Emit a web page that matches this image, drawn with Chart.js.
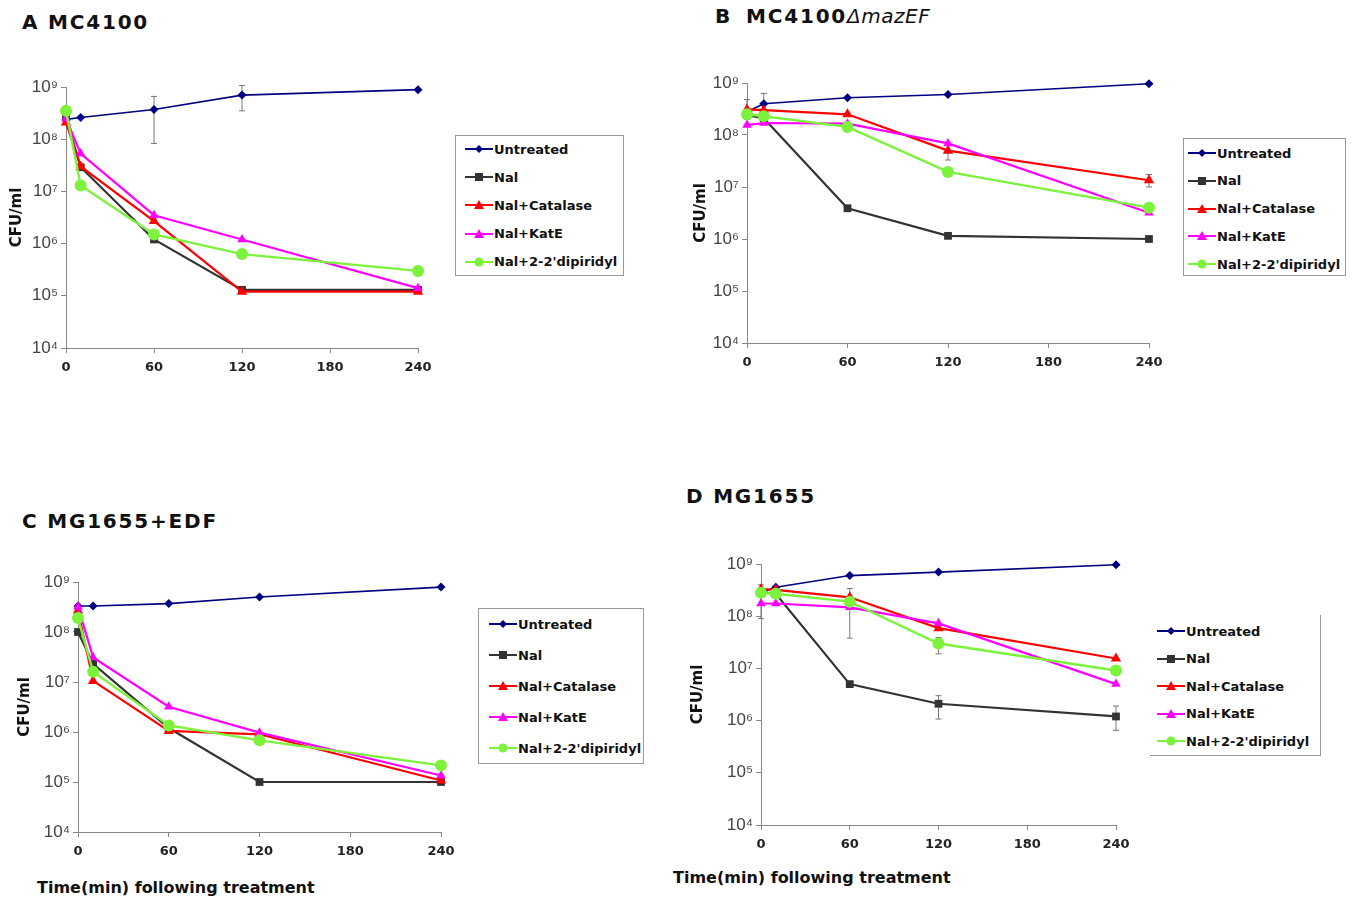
<!DOCTYPE html>
<html>
<head>
<meta charset="utf-8">
<script src="https://cdn.jsdelivr.net/npm/chart.js@4.4.0/dist/chart.umd.min.js"></script>
<style>
  body { margin: 0; background: #fff; width: 1353px; height: 899px; position: relative; overflow: hidden; font-family: 'DejaVu Sans', sans-serif; }
  canvas { position: absolute; }
  .ptitle { position: absolute; font-weight: bold; font-size: 20px; letter-spacing: 1.8px; white-space: pre; line-height: 22px; color: #111; }
  .ptitle i { font-weight: normal; letter-spacing: 0.5px; }
  .ptitle span { margin-left: 14px; }
  .xtitle { position: absolute; font-weight: bold; font-size: 16px; line-height: 18px; white-space: pre; color: #111; }
  .lgbox { position: absolute; box-sizing: border-box; }
  .lgrow { position: absolute; display: flex; align-items: center; font-weight: bold; font-size: 13px; color: #111; white-space: pre; height: 16px; }
  .lgrow svg { margin-right: 1px; }
</style>
</head>
<body>

<div class="ptitle" style="left:22px;top:11px">A MC4100</div>
<div class="ptitle" style="left:715px;top:5px">B<span>MC4100<i>&Delta;mazEF</i></span></div>
<div class="ptitle" style="left:22px;top:510px">C MG1655+EDF</div>
<div class="ptitle" style="left:686px;top:485px">D MG1655</div>
<div class="xtitle" style="left:37px;top:879px">Time(min) following treatment</div>
<div class="xtitle" style="left:673px;top:869px">Time(min) following treatment</div>

<canvas id="chartA"></canvas>
<canvas id="chartB"></canvas>
<canvas id="chartC"></canvas>
<canvas id="chartD"></canvas>

<script>
// sampling times (min)
const times = [0, 10, 60, 120, 240];
const seriesNames = ['Untreated', 'Nal', 'Nal+Catalase', 'Nal+KatE', "Nal+2-2'dipiridyl"];
const yTicks = [1e4, 1e5, 1e6, 1e7, 1e8, 1e9];

// A  MC4100
const aUntreated = [2.4e8, 2.6e8, 3.7e8, 7.0e8, 8.9e8];
const aNal       = [2.6e8, 2.9e7, 1.2e6, 1.3e5, 1.3e5];
const aCatalase  = [2.1e8, 3.0e7, 2.7e6, 1.2e5, 1.2e5];
const aKatE      = [2.5e8, 5.3e7, 3.5e6, 1.2e6, 1.4e5];
const aDipiridyl = [3.5e8, 1.3e7, 1.5e6, 6.3e5, 3.0e5];

// B  MC4100 delta mazEF
const bUntreated = [2.8e8, 4.0e8, 5.2e8, 6.0e8, 9.7e8];
const bNal       = [2.4e8, 2.1e8, 3.9e6, 1.15e6, 1.0e6];
const bCatalase  = [3.1e8, 3.0e8, 2.5e8, 5.0e7, 1.35e7];
const bKatE      = [1.55e8, 1.7e8, 1.65e8, 6.9e7, 3.2e6];
const bDipiridyl = [2.5e8, 2.3e8, 1.43e8, 1.95e7, 4.0e6];

// C  MG1655+EDF
const cUntreated = [3.3e8, 3.3e8, 3.7e8, 5.0e8, 7.9e8];
const cNal       = [1.0e8, 2.3e7, 1.2e6, 1.0e5, 1.0e5];
const cCatalase  = [2.7e8, 1.05e7, 1.05e6, 9.0e5, 1.07e5];
const cKatE      = [3.2e8, 3.1e7, 3.2e6, 9.7e5, 1.35e5];
const cDipiridyl = [1.9e8, 1.6e7, 1.35e6, 6.8e5, 2.15e5];

// D  MG1655
const dUntreated = [2.8e8, 3.6e8, 6.0e8, 7.0e8, 9.7e8];
const dNal       = [2.9e8, 2.7e8, 5.0e6, 2.1e6, 1.2e6];
const dCatalase  = [3.3e8, 3.2e8, 2.3e8, 5.9e7, 1.55e7];
const dKatE      = [1.75e8, 1.75e8, 1.48e8, 7.3e7, 5.0e6];
const dDipiridyl = [2.8e8, 2.7e8, 1.9e8, 3.0e7, 9.1e6];

// error bars: [time, low, high]
const errA = [[60, 8.3e7, 6.6e8], [120, 3.5e8, 1.07e9]];
const errB = [[0, 2.0e8, 4.8e8], [10, 3.0e8, 6.3e8], [120, 3.3e7, 7.0e7], [240, 1.0e7, 1.74e7]];
const errC = [];
const errD = [[0, 9e7, 4e8], [60, 3.8e7, 3.4e8], [120, 1.9e7, 3.9e7], [120, 1.07e6, 3.0e6], [240, 6.5e5, 1.9e6]];

const styles = [
  { color: '#000080', shape: 'rectRot', r: 4.5, w: 1.6 },
  { color: '#333333', shape: 'rect', r: 5.5, w: 2.2 },
  { color: '#ff0000', shape: 'triangle', r: 6, w: 2.2 },
  { color: '#ff00ff', shape: 'triangle', r: 5.5, w: 2.2 },
  { color: '#7cf23c', shape: 'circle', r: 6, w: 2.4 }
];

const sup = { 4: '\u2074', 5: '\u2075', 6: '\u2076', 7: '\u2077', 8: '\u2078', 9: '\u2079' };

const errorBars = {
  id: 'errorBars',
  beforeDatasetsDraw(chart, args, opts) {
    const { ctx, scales: { x, y } } = chart;
    ctx.save();
    ctx.strokeStyle = '#777';
    ctx.lineWidth = 1;
    (opts.bars || []).forEach(([t, lo, hi]) => {
      const px = x.getPixelForValue(t), p1 = y.getPixelForValue(lo), p2 = y.getPixelForValue(hi);
      ctx.beginPath();
      ctx.moveTo(px, p1); ctx.lineTo(px, p2);
      ctx.moveTo(px - 3, p1); ctx.lineTo(px + 3, p1);
      ctx.moveTo(px - 3, p2); ctx.lineTo(px + 3, p2);
      ctx.stroke();
    });
    ctx.restore();
  }
};

function makePanel(id, series, errs, g) {
  const padTop = 14, padRight = 24, xh = 34;
  const left = g.titleX - 13;
  const yw = g.x0 - left;
  const cv = document.getElementById(id);
  cv.style.left = left + 'px';
  cv.style.top = (g.yTop - padTop) + 'px';
  const w = g.x240 - left + padRight, h = padTop + (g.yBot - g.yTop) + xh;
  cv.style.width = w + 'px'; cv.style.height = h + 'px';
  cv.width = w; cv.height = h;

  new Chart(cv, {
    type: 'line',
    data: {
      datasets: series.map((vals, i) => ({
        label: seriesNames[i],
        data: vals.map((v, k) => ({ x: times[k], y: v })),
        borderColor: styles[i].color,
        backgroundColor: styles[i].color,
        borderWidth: styles[i].w,
        pointStyle: styles[i].shape,
        pointRadius: styles[i].r,
        pointBorderWidth: 0,
        tension: 0,
        clip: false,
        order: 5 - i
      }))
    },
    options: {
      responsive: false,
      animation: false,
      layout: { padding: { top: padTop, right: padRight, left: 0, bottom: 0 } },
      plugins: { legend: { display: false }, tooltip: { enabled: false }, errorBars: { bars: errs } },
      scales: {
        x: {
          type: 'linear', min: 0, max: 240,
          afterFit: s => { s.height = xh; },
          border: { color: '#888', width: 1 },
          grid: { drawOnChartArea: false, tickLength: 5, color: '#888' },
          ticks: { stepSize: 60, padding: 7, color: '#222', font: { family: 'DejaVu Sans', weight: 'bold', size: 13 } }
        },
        y: {
          type: 'logarithmic', min: 1e4, max: 1e9,
          afterFit: s => { s.width = yw; },
          afterBuildTicks: s => { s.ticks = yTicks.map(v => ({ value: v, major: true })); },
          border: { color: '#888', width: 1 },
          grid: { drawOnChartArea: false, tickLength: 5, color: '#888' },
          ticks: {
            padding: 3, color: '#444',
            font: { family: 'Liberation Sans', size: 17 },
            callback: v => '10' + sup[Math.round(Math.log10(v))]
          },
          title: { display: true, text: 'CFU/ml', color: '#111', font: { family: 'DejaVu Sans', weight: 'bold', size: 15 } }
        }
      }
    },
    plugins: [errorBars]
  });
}

function markerSvg(st) {
  const c = st.color;
  let m;
  if (st.shape === 'rectRot') m = `<polygon points="14,2 18,6 14,10 10,6" fill="${c}"/>`;
  else if (st.shape === 'rect') m = `<rect x="10" y="2" width="8" height="8" fill="${c}"/>`;
  else if (st.shape === 'triangle') m = `<polygon points="14,1 19,10 9,10" fill="${c}"/>`;
  else m = `<circle cx="14" cy="6" r="4.5" fill="${c}"/>`;
  return `<svg width="28" height="12"><line x1="0" y1="6" x2="28" y2="6" stroke="${c}" stroke-width="2"/>${m}</svg>`;
}

function makeLegend(lg) {
  const box = document.createElement('div');
  box.className = 'lgbox';
  Object.assign(box.style, { left: lg.box[0] + 'px', top: lg.box[1] + 'px', width: lg.box[2] + 'px', height: lg.box[3] + 'px' });
  box.style.border = lg.border;
  if (lg.borderRB) { box.style.borderRight = '1px solid #999'; box.style.borderBottom = '1px solid #999'; }
  document.body.appendChild(box);
  seriesNames.forEach((name, i) => {
    const row = document.createElement('div');
    row.className = 'lgrow';
    row.style.left = lg.x + 'px';
    row.style.top = (lg.y0 + i * lg.gap - 8) + 'px';
    row.innerHTML = markerSvg(styles[i]) + '<span>' + name + '</span>';
    document.body.appendChild(row);
  });
}

makePanel('chartA', [aUntreated, aNal, aCatalase, aKatE, aDipiridyl], errA, { x0: 66, x240: 418, yTop: 87, yBot: 348, titleX: 17 });
makePanel('chartB', [bUntreated, bNal, bCatalase, bKatE, bDipiridyl], errB, { x0: 747, x240: 1149, yTop: 83, yBot: 343, titleX: 701 });
makePanel('chartC', [cUntreated, cNal, cCatalase, cKatE, cDipiridyl], errC, { x0: 78, x240: 441, yTop: 582, yBot: 832, titleX: 25 });
makePanel('chartD', [dUntreated, dNal, dCatalase, dKatE, dDipiridyl], errD, { x0: 761, x240: 1116, yTop: 564, yBot: 825, titleX: 698 });

makeLegend({ box: [455, 135, 169, 141], border: '1px solid #999', x: 465, y0: 149, gap: 28.2 });
makeLegend({ box: [1183, 138, 163, 138], border: '1px solid #999', x: 1188, y0: 153, gap: 27.8 });
makeLegend({ box: [478, 608, 166, 156], border: '1px solid #999', x: 489, y0: 624, gap: 31 });
makeLegend({ box: [1150, 615, 171, 141], border: 'none', borderRB: true, x: 1157, y0: 631, gap: 27.5 });
</script>
</body>
</html>
